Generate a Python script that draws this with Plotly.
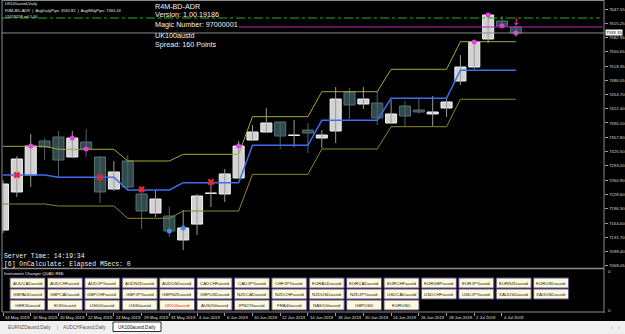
import plotly.graph_objects as go

W, H = 625, 334
def px(x): return x / W
def py(y): return 1 - y / H

# ---------------- data ----------------
bar_dates = ["14 May 2019", "15 May 2019", "16 May 2019", "17 May 2019", "20 May 2019", "21 May 2019",
             "22 May 2019", "23 May 2019", "24 May 2019", "28 May 2019", "29 May 2019", "30 May 2019",
             "31 May 2019", "3 Jun 2019", "4 Jun 2019", "5 Jun 2019", "6 Jun 2019", "7 Jun 2019",
             "10 Jun 2019", "11 Jun 2019", "12 Jun 2019", "13 Jun 2019", "14 Jun 2019", "17 Jun 2019",
             "18 Jun 2019", "19 Jun 2019", "20 Jun 2019", "21 Jun 2019", "24 Jun 2019", "25 Jun 2019",
             "26 Jun 2019", "27 Jun 2019", "28 Jun 2019", "1 Jul 2019", "2 Jul 2019", "3 Jul 2019",
             "4 Jul 2019", "5 Jul 2019"]
opens = [7148.3, 7234.2, 7272.6, 7349.4, 7358.4, 7313.2, 7347.1, 7313.2, 7240.9, 7304.2,
         7229.6, 7186.7, 7179.9, 7125.8, 7161.7, 7231.0, 7229.6, 7265.8, 7351.6, 7369.7,
         7392.3, 7362.0, 7374.2, 7356.1, 7371.9, 7460.1, 7432.9, 7435.2, 7390.0, 7428.4,
         7419.4, 7410.4, 7423.9, 7484.9, 7516.5, 7579.8, 7620.4, 7606.9]
highs = [7261.3, 7315.5, 7365.2, 7356.1, 7371.9, 7371.9, 7376.5, 7315.5, 7304.2, 7317.8,
         7236.4, 7236.4, 7200.3, 7193.5, 7229.6, 7261.3, 7286.1, 7349.4, 7385.5, 7423.9,
         7393.0, 7396.8, 7390.0, 7374.2, 7471.3, 7469.1, 7471.3, 7460.1, 7442.0, 7439.7,
         7444.2, 7451.0, 7446.5, 7543.6, 7577.5, 7638.5, 7631.7, 7611.4]
lows = [7141.5, 7222.8, 7245.4, 7306.4, 7268.1, 7311.0, 7313.2, 7209.3, 7236.4, 7238.7,
        7150.6, 7177.7, 7132.5, 7103.1, 7137.0, 7200.3, 7211.6, 7265.0, 7349.4, 7368.5,
        7331.3, 7335.8, 7322.3, 7333.6, 7344.8, 7399.1, 7421.6, 7385.5, 7389.0, 7381.0,
        7410.4, 7383.2, 7403.6, 7475.9, 7512.0, 7570.7, 7606.9, 7584.3]
closes = [7252.2, 7308.7, 7338.1, 7335.8, 7306.4, 7356.1, 7331.3, 7234.2, 7279.4, 7245.4,
          7191.2, 7218.3, 7146.1, 7152.9, 7225.1, 7231.9, 7274.9, 7338.1, 7369.7, 7390.0,
          7360.6, 7362.9, 7367.4, 7362.9, 7444.2, 7430.7, 7444.2, 7401.3, 7410.4, 7405.8,
          7414.9, 7414.9, 7437.5, 7516.5, 7573.0, 7634.0, 7609.1, 7593.3]

week_start = [0, 4, 9, 13, 18, 23, 28, 33]
adr_mid = [7272.6, 7267.4, 7238.7, 7255.2, 7339.6, 7396.1, 7445.8, 7509.1]
adr_upper = [7337.4, 7330.6, 7304.2, 7319.3, 7404.3, 7460.7, 7511.3, 7573.7]
adr_lower = [7207.1, 7202.5, 7174.7, 7191.2, 7274.1, 7331.3, 7381.7, 7443.6]

cross_idx = [1, 7, 10, 15]
cross_price = [7272.6, 7267.4, 7240.2, 7256.7]
hi_sig_idx = [2, 5, 6, 17, 34, 35, 36, 37]
hi_sig_price = [7338.1, 7356.1, 7331.3, 7338.1, 7573.0, 7634.0, 7609.1, 7593.3]
lo_sig_idx = [12, 13]
lo_sig_price = [7146.1, 7152.9]
arrow_idx = [37]
arrow_price = [7617.0]

current_price = 7593.35
green_level = 7627.2
magenta_level = 7606.9
magenta_start = 17

price_ticks = [7647.55, 7615.25, 7582.95, 7550.65, 7518.35, 7486.05, 7454.70, 7422.40, 7390.10,
               7357.80, 7325.50, 7293.20, 7260.90, 7228.60, 7196.30, 7164.00, 7131.70, 7099.40, 7068.05]

header_lines = ["UK100austd,Daily",
                "R4M-BD-ADR  |  AvgDailyPips: 3565.82  |  AvgWklyPips: 7465.34",
                "#2019158 ref 1.00"]
info_lines = ["R4M-BD-ADR", "Version: 1.00.19186", "Magic Number: 97000001", "UK100austd", "Spread: 160 Points"]
console_lines = ["Server Time: 14:19:34", "[6] OnCalculate: Elapsed MSecs: 0"]
panel_title = "Instrument Changer QUAD RML"
button_rows = [
    ["AUDCADaustd", "AUDCHFaustd", "AUDJPYaustd", "AUDNZDaustd", "AUDUSDaustd", "CADCHFaustd",
     "CADJPYaustd", "CHFJPYaustd", "EURAUDaustd", "EURCADaustd", "EURCHFaustd", "EURGBPaustd",
     "EURJPYaustd", "EURNZDaustd", "EURUSDaustd"],
    ["GBPAUDaustd", "GBPCADaustd", "GBPCHFaustd", "GBPJPYaustd", "GBPNZDaustd", "GBPUSDaustd",
     "NZDCADaustd", "NZDCHFaustd", "NZDUSDaustd", "NZDJPYaustd", "USDCADaustd", "USDCHFaustd",
     "USDJPYaustd", "XAUUSDaustd", "XAGUSDaustd"],
    ["GER30austd", "EU50austd", "US500austd", "US30austd", "UK100austd", "AUS200austd",
     "JPN225austd", "FRA40austd", "NAS100austd", "GBPUSD", "EURUSD"],
]
active_symbol = "UK100austd"
tabs = ["EURNZDaustd,Daily", "AUDCHFaustd,Daily", "UK100austd,Daily"]

# ---------------- derived ----------------
n = len(opens)
xs = list(range(n))
def week_of(i):
    w = 0
    for k, s in enumerate(week_start):
        if s <= i:
            w = k
    return w
mid_bar = [adr_mid[week_of(i)] for i in xs]
up_bar = [adr_upper[week_of(i)] for i in xs]
lo_bar = [adr_lower[week_of(i)] for i in xs]

X_RANGE = [-0.072, 43.36]
Y_RANGE = [7062.47, 7665.62]

FONT = "Liberation Sans"
MONO = "Liberation Mono"

fig = go.Figure()

# wicks
for bull in (True, False):
    wx, wy = [], []
    for i in xs:
        if (closes[i] >= opens[i]) == bull:
            wx += [i, i, None]
            wy += [lows[i], highs[i], None]
    fig.add_trace(go.Scatter(x=wx, y=wy, mode="lines", hoverinfo="skip",
                             line=dict(color="#9a9a9a" if bull else "#56626a", width=1)))

# bodies
for bull in (True, False):
    bx, base, hgt = [], [], []
    for i in xs:
        if (closes[i] >= opens[i]) == bull:
            bx.append(i)
            lo_ = min(opens[i], closes[i])
            base.append(lo_)
            hgt.append(max(abs(closes[i] - opens[i]), 0.9))
    fig.add_trace(go.Bar(x=bx, y=hgt, base=base, width=0.8, hoverinfo="skip",
                         marker=dict(color="#d2d2d2" if bull else "#2f4a4d",
                                     line=dict(color="#f4f4f4" if bull else "#587273", width=1))))

# ADR bands
fig.add_trace(go.Scatter(x=xs, y=up_bar, mode="lines", line=dict(color="#a8a63a", width=1), hoverinfo="skip"))
fig.add_trace(go.Scatter(x=xs, y=lo_bar, mode="lines", line=dict(color="#8a892e", width=1), hoverinfo="skip"))
fig.add_trace(go.Scatter(x=xs, y=mid_bar, mode="lines", line=dict(color="#3f6ff0", width=1.5), hoverinfo="skip"))

# signal markers
fig.add_trace(go.Scatter(x=cross_idx, y=cross_price, mode="markers", hoverinfo="skip",
                         marker=dict(symbol="x", size=6, color="#f02424", line=dict(width=0))))
fig.add_trace(go.Scatter(x=hi_sig_idx, y=hi_sig_price, mode="markers", hoverinfo="skip",
                         marker=dict(symbol="circle", size=5, color="#e83ee8", line=dict(width=0))))
fig.add_trace(go.Scatter(x=lo_sig_idx, y=lo_sig_price, mode="markers", hoverinfo="skip",
                         marker=dict(symbol="circle", size=5, color="#3a8ef0", line=dict(width=0))))
fig.add_trace(go.Scatter(x=arrow_idx, y=arrow_price, mode="text", text=["↓"], hoverinfo="skip",
                         textfont=dict(color="#e83ee8", size=10, family="DejaVu Sans")))

# placeholder on sub window
fig.add_trace(go.Scatter(x=[0], y=[0.5], xaxis="x2", yaxis="y2", mode="markers",
                         marker=dict(opacity=0), hoverinfo="skip"))

label_idx = list(range(0, n, 2))

fig.update_layout(
    width=W, height=H, margin=dict(l=0, r=0, t=0, b=0),
    paper_bgcolor="black", plot_bgcolor="black", showlegend=False, barmode="overlay",
    xaxis=dict(domain=[px(2), px(604)], range=X_RANGE, visible=False, fixedrange=True),
    yaxis=dict(domain=[py(268), py(1)], range=Y_RANGE, side="right", anchor="x",
               tickmode="array", tickvals=price_ticks, ticktext=[f"{v:.2f}" for v in price_ticks],
               ticks="outside", ticklen=3, tickcolor="#a0a0a0", tickwidth=1,
               tickfont=dict(size=4.4, color="#d8d8d8", family=FONT),
               showgrid=False, zeroline=False, showline=False, fixedrange=True),
    xaxis2=dict(domain=[px(2), px(604)], range=X_RANGE, anchor="y2",
                tickmode="array", tickvals=label_idx, ticks="outside", ticklen=3,
                tickcolor="#a0a0a0", showticklabels=False, showgrid=False, zeroline=False,
                showline=False, fixedrange=True),
    yaxis2=dict(domain=[py(312), py(269)], range=[0, 1], anchor="x2", visible=False, fixedrange=True),
)

shapes = []
ann = []
def line(x0, y0, x1, y1, color="#8a8a8a", width=1, dash=None):
    shapes.append(dict(type="line", xref="paper", yref="paper", x0=px(x0), y0=py(y0), x1=px(x1), y1=py(y1),
                       line=dict(color=color, width=width, dash=dash), layer="above"))
def text(x, y, s, size, color="white", family=FONT, xanchor="left", xref="paper", yref="paper", **kw):
    ann.append(dict(x=x if xref != "paper" else px(x), y=y if yref != "paper" else py(y),
                    xref=xref, yref=yref, text=s, showarrow=False, xanchor=xanchor, yanchor="middle",
                    font=dict(size=size, color=color, family=family), borderpad=0, **kw))

# price level lines
shapes.append(dict(type="line", xref="paper", yref="y", x0=px(2), x1=px(604), y0=current_price, y1=current_price,
                   line=dict(color="#8c8c8c", width=1)))
shapes.append(dict(type="line", xref="paper", yref="y", x0=px(2), x1=px(600), y0=green_level, y1=green_level,
                   line=dict(color="#2fa82f", width=1, dash="dashdot")))
shapes.append(dict(type="line", xref="x", yref="y", x0=magenta_start, x1=X_RANGE[1] - 0.1,
                   y0=magenta_level, y1=magenta_level, line=dict(color="#b92cb9", width=1)))

# frames
line(2, 0.5, 604, 0.5)
line(2, 0, 2, 312)
line(604, 0, 604, 313)
line(2, 268.5, 604, 268.5, width=1.5)
line(2, 312, 604, 312)

# header texts
for k, s in enumerate(header_lines):
    text(4, 4 + 6 * k, s, 4, color="#e8e8e8")
for k, (s, yy) in enumerate(zip(info_lines, [6, 14, 24, 36, 44])):
    text(154, yy, s, 7.2, color="#f2f2f2")
for k, s in enumerate(console_lines):
    text(3, 256 + 8 * k, s, 6.4, color="#f0f0f0", family=MONO)

# current price box
text(605, current_price, f"{current_price:.2f}", 4.4, color="black", xref="paper", yref="y",
     bgcolor="white")
ann[-1]["x"] = px(605)

# sub window labels
text(3, 273, panel_title, 4.2, color="#f0f0f0")
text(607, 271, "0", 4.4, color="#d8d8d8")
text(607, 310, "0", 4.4, color="#d8d8d8")

# buttons
for r, row in enumerate(button_rows):
    for c, name in enumerate(row):
        x0 = 10 + 37.4 * c
        y0 = 278 + 11 * r
        shapes.append(dict(type="rect", xref="paper", yref="paper", x0=px(x0), x1=px(x0 + 35),
                           y0=py(y0), y1=py(y0 + 10), fillcolor="#fdf9dc",
                           line=dict(color="#5c4f8c", width=1), layer="above"))
        text(x0 + 17.5, y0 + 5, name, 4.4, color="#e02020" if name == active_symbol else "#202020",
             xanchor="center")

# date labels
for i in label_idx:
    text(i, 317, bar_dates[i], 4.2, color="#e0e0e0", xref="x2", xshift=1)

# tab bar
shapes.append(dict(type="rect", xref="paper", yref="paper", x0=0, x1=1, y0=0, y1=py(321),
                   fillcolor="#f0f0f0", line=dict(width=0), layer="above"))
shapes.append(dict(type="rect", xref="paper", yref="paper", x0=px(113), x1=px(161), y0=py(322), y1=py(331.5),
                   fillcolor="white", line=dict(color="#303030", width=1), layer="above"))
text(7, 327, tabs[0], 4.7, color="#555555")
text(56, 327, "|", 4.7, color="#888888")
text(62, 327, tabs[1], 4.7, color="#555555")
text(117, 327, tabs[2], 4.7, color="#111111")
text(612, 327, "‹", 5, color="#909090", xanchor="center")
text(619, 327, "›", 5, color="#909090", xanchor="center")

fig.update_layout(shapes=shapes, annotations=ann)
fig.write_html("out.html", config={"displayModeBar": False})
